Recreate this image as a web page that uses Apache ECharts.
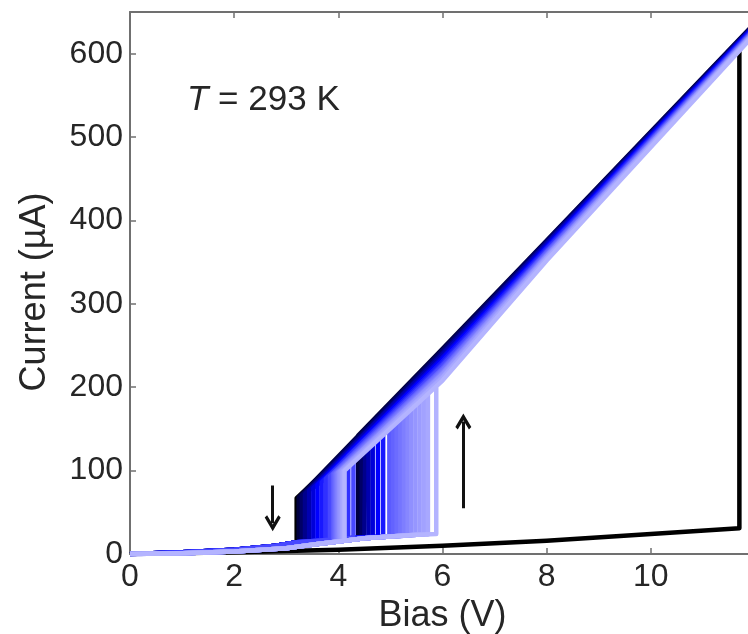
<!DOCTYPE html>
<html>
<head>
<meta charset="utf-8">
<title>I-V sweeps</title>
<script src="https://cdn.jsdelivr.net/npm/echarts@6/dist/echarts.min.js"></script>
<style>
  html, body { margin: 0; padding: 0; background: #fff; }
  #chart { width: 748px; height: 634px; }
</style>
</head>
<body>
<div id="chart"></div>
<script>
// one entry per sweep, first (black) to last (lightest)
const sweepColors = ['#000000', '#000040', '#000066', '#00008c', '#0000b0', '#0000d8', '#0000ff', '#1818ff',
  '#3030ff', '#4848ff', '#5a5aff', '#6363ff', '#6c6cff', '#7575ff', '#7e7eff', '#8787ff', '#9090ff',
  '#9696ff', '#9c9cff', '#a2a2ff', '#a8a8ff', '#b4b4ff']
// switch off (high -> low), V and uA
const vOff = [3.20, 3.24, 3.30, 3.36, 3.44, 3.52, 3.60, 3.68, 3.76, 3.84, 3.90, 3.92, 3.94, 3.96, 3.98, 4.00,
  4.02, 4.04, 4.06, 4.075, 4.09, 4.12]
const iOffHigh = [67, 68, 70, 72, 76, 79, 83, 86, 90, 93, 96, 96, 96, 97, 97, 98, 98, 99, 99, 99, 99, 100]
const iOffLow = [14, 14.2, 14.5, 14.8, 15.2, 15.6, 16, 16.4, 16.8, 17.2, 14.3, 14.4, 14.5, 14.7, 14.9, 15,
  15.2, 15.3, 15.5, 15.6, 15.7, 16]
// switch on (low -> high)
const vOn = [11.70, 4.38, 4.45, 4.52, 4.58, 4.66, 4.76, 4.86, 4.19, 4.29, 4.98, 5.05, 5.12, 5.19, 5.26, 5.33,
  5.40, 5.48, 5.56, 5.64, 5.72, 5.88]
const iOnLow = [31, 19.5, 19.8, 20, 20.2, 20.4, 20.6, 20.9, 18.8, 19.2, 20.9, 21.2, 21.5, 21.8, 22, 22.3, 22.6,
  22.9, 23.2, 23.3, 23.4, 24]
const iOnHigh = [604, 142, 144, 146, 149, 151, 156, 160, 117, 121, 161, 164, 168, 171, 174, 177, 180, 184,
  187, 191, 195, 201]
// high state current at 6 V, 8 V and 12 V
const iAt6 = [232, 246, 244, 241, 239, 236, 234, 231, 228, 226, 223, 222, 221, 220, 218, 217, 216, 215, 213,
  212, 211, 208]
const iAt8 = [366, 376, 375, 373, 372, 370, 368, 367, 365, 363, 362, 361, 360, 359, 358, 358, 357, 356, 355,
  355, 354, 352]
const iAt12 = [632, 637, 636, 635, 634, 634, 633, 632, 631, 630, 629, 629, 628, 628, 627, 627, 627, 626, 626,
  625, 625, 624]
// low state branches
const lowBlackV = [0, 2, 4, 6, 8, 10]
const lowBlackI = [0, 2, 5, 10, 16, 24]
const lowDarkV = [0, 1, 2, 2.8, 3.2, 3.6, 4.0, 4.5]
const lowDarkI = [0, 2, 5, 10, 14, 16, 18, 20]
const lowLightV = [0, 1, 2, 3, 3.6, 4.0, 4.5, 5.0, 5.5]
const lowLightI = [0, 1, 3, 7, 12, 15, 19, 21, 23]
const upBranch = ['black', 'dark', 'dark', 'dark', 'dark', 'dark', 'dark', 'dark', 'dark', 'dark',
  'light', 'light', 'light', 'light', 'light', 'light', 'light', 'light', 'light', 'light', 'light', 'light']
const downBranch = ['dark', 'dark', 'dark', 'dark', 'dark', 'dark', 'dark', 'dark', 'dark', 'dark',
  'light', 'light', 'light', 'light', 'light', 'light', 'light', 'light', 'light', 'light', 'light', 'light']
// sweep direction arrows [start, end]
const arrowDown = [[2.74, 82], [2.74, 37]]
const arrowUp = [[6.40, 55], [6.40, 159]]

const xTicks = { min: 0, max: 12, interval: 2 }
const yTicks = { min: 0, max: 650, interval: 100 }

const font = 'Liberation Sans'
const axisColor = '#707070'
const textColor = '#262626'
const branches = {
  black: { v: lowBlackV, i: lowBlackI },
  dark: { v: lowDarkV, i: lowDarkI },
  light: { v: lowLightV, i: lowLightI }
}
const highKnots = [[6, iAt6], [8, iAt8]]

function sweepPoints(k) {
  const up = branches[upBranch[k]]
  const down = branches[downBranch[k]]
  const pts = []
  up.v.forEach((v, i) => { if (v < vOn[k]) pts.push([v, up.i[i]]) })
  pts.push([vOn[k], iOnLow[k]], [vOn[k], iOnHigh[k]])
  highKnots.forEach(([v, arr]) => { if (v > vOn[k]) pts.push([v, arr[k]]) })
  pts.push([12, iAt12[k]])
  highKnots.slice().reverse().forEach(([v, arr]) => { if (v > vOff[k]) pts.push([v, arr[k]]) })
  pts.push([vOff[k], iOffHigh[k]], [vOff[k], iOffLow[k]])
  for (let i = down.v.length - 1; i >= 0; i--) {
    if (down.v[i] < vOff[k]) pts.push([down.v[i], down.i[i]])
  }
  return pts
}

const series = sweepColors.map((c, k) => ({
  type: 'line',
  data: sweepPoints(k),
  showSymbol: false,
  symbol: 'none',
  lineStyle: { color: c, width: 4.5, join: 'round' },
  z: 2 + k
}))

const chevron = 'path://M10,0 L20,11 L17,13 L10,5.5 L3,13 L0,11 Z'
series.push({
  type: 'lines',
  coordinateSystem: 'cartesian2d',
  symbol: ['none', chevron],
  symbolSize: [18, 16],
  lineStyle: { color: '#111', width: 3, opacity: 1 },
  data: [{ coords: arrowDown }, { coords: arrowUp }],
  z: 40
})

const axisLine = { show: true, onZero: false, lineStyle: { color: axisColor, width: 2 } }
const axisTick = { show: true, inside: true, length: 6, lineStyle: { color: axisColor, width: 1.5 } }

const chart = echarts.init(document.getElementById('chart'))
chart.setOption({
  animation: false,
  backgroundColor: '#fff',
  title: {
    text: '{i|T} = 293 K',
    left: 187,
    top: 83,
    padding: 0,
    textStyle: {
      fontFamily: font,
      fontSize: 35,
      fontWeight: 'normal',
      color: textColor,
      rich: { i: { fontFamily: font, fontSize: 35, fontStyle: 'italic', color: textColor } }
    }
  },
  // the right frame edge sits just outside the picture
  grid: { left: 130, width: 625, top: 12, bottom: 80, outerBoundsMode: 'none', containLabel: false },
  xAxis: [
    {
      type: 'value',
      ...xTicks,
      position: 'bottom',
      axisLine,
      axisTick,
      splitLine: { show: false },
      axisLabel: { fontFamily: font, fontSize: 32, color: textColor, margin: 7, showMaxLabel: false },
      name: 'Bias (V)',
      nameLocation: 'middle',
      nameGap: 44,
      nameTextStyle: { fontFamily: font, fontSize: 36, color: textColor }
    },
    {
      type: 'value',
      ...xTicks,
      position: 'top',
      axisLine,
      axisTick,
      splitLine: { show: false },
      axisLabel: { show: false }
    }
  ],
  yAxis: [
    {
      type: 'value',
      ...yTicks,
      axisLine,
      axisTick,
      splitLine: { show: false },
      axisLabel: { fontFamily: font, fontSize: 32, color: textColor, margin: 7, showMaxLabel: false },
      name: 'Current (µA)',
      nameLocation: 'middle',
      nameGap: 77,
      nameTextStyle: { fontFamily: font, fontSize: 36, color: textColor, padding: [0, 18, 0, 0] }
    }
  ],
  series
})
</script>
</body>
</html>
